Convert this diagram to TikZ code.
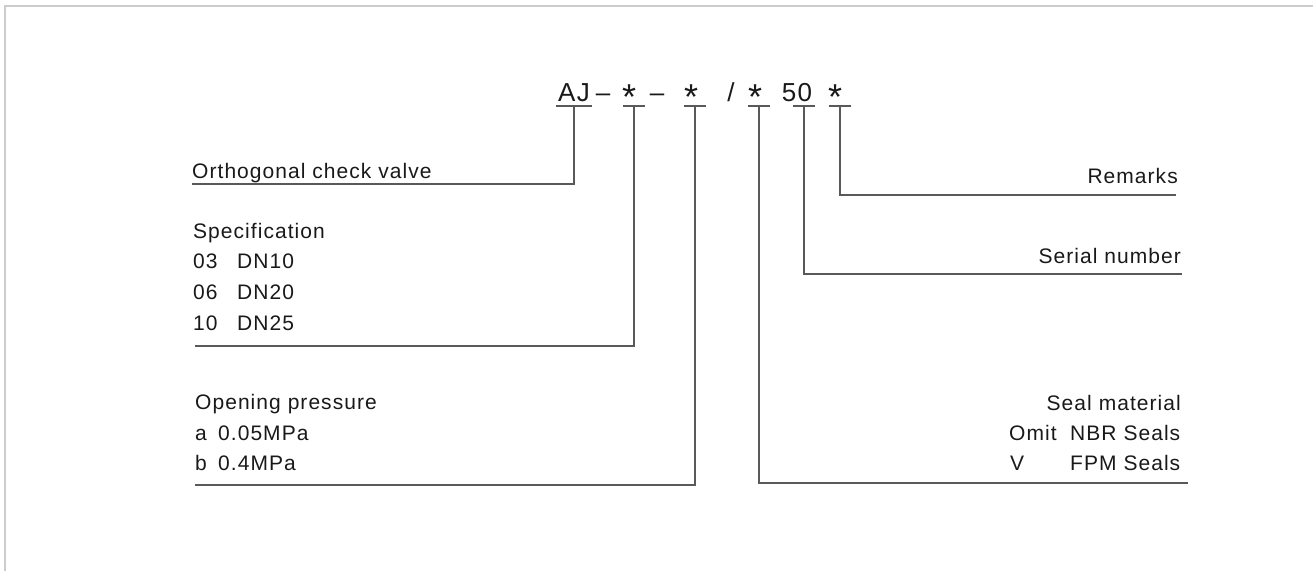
\documentclass[tikz,border=0pt]{standalone}
\usepackage{fontspec}
\setmainfont{Liberation Sans}[LetterSpace=5]
\usetikzlibrary{positioning}

\newcommand{\codestar}{\raisebox{-8pt}{\fontsize{36}{36}\selectfont *}}

\tikzset{
  code/.style={font=\fontsize{26}{26}\selectfont, text=black!90, inner sep=0pt, anchor=base},
  lbl/.style={font=\fontsize{21}{21}\selectfont, text=black!90, inner sep=0pt, anchor=base west},
  rlbl/.style={lbl, anchor=base east},
  lead/.style={draw=black!65, line width=1.2pt},
}

\begin{document}
\begin{tikzpicture}[x=1pt,y=-1pt]
				\useasboundingbox (0,0) rectangle (1313,571);
				\draw[black!20, line width=2pt] (5,571) -- (5,6) -- (1313,6);

				% model code
				\node[code] (aj) at (574,101) {AJ};
				\node[code] (dasha) at (603,101) {–};
				\node[code] (stara) at (629,101) {\codestar};
				\node[code] (dashb) at (657,101) {–};
				\node[code] (starb) at (691,101) {\codestar};
				\node[code] (slash) at (731,101) {/};
				\node[code] (starc) at (755,101) {\codestar};
				\node[code] (fifty) at (797,101) {50};
				\node[code] (stard) at (835,101) {\codestar};

				% underlines
				\coordinate (uaj) at (574,106);
				\coordinate (ua) at (634,106);
				\coordinate (ub) at (695,106);
				\coordinate (uc) at (759,106);
				\coordinate (ufifty) at (804,106);
				\coordinate (ud) at (840,106);
				\draw[lead] ([xshift=-18]uaj) -- ([xshift=18]uaj);
				\foreach \u in {ua,ub,uc,ufifty,ud}
					\draw[lead] ([xshift=-11]\u) -- ([xshift=11]\u);

				% left labels
				\node[lbl] (orth) at (192,178) {Orthogonal check valve};

				\node[lbl] (spec) at (193,238) {Specification};
				\node[lbl] (speca) at (193,268) {03};
				\node[lbl] (specb) at (193,299) {06};
				\node[lbl] (specc) at (193,330) {10};
				\node[lbl] (dna) at (237,268) {DN10};
				\node[lbl] (dnb) at (237,299) {DN20};
				\node[lbl] (dnc) at (237,330) {DN25};

				\node[lbl] (press) at (195,409) {Opening pressure};
				\node[lbl] (pressa) at (195,440) {a};
				\node[lbl] (pressb) at (195,470) {b};
				\node[lbl] (mpaa) at (218,440) {0.05MPa};
				\node[lbl] (mpab) at (218,470) {0.4MPa};

				% right labels
				\node[rlbl] (rem) at (1178,183) {Remarks};
				\node[rlbl] (serial) at (1181,263) {Serial number};
				\node[rlbl] (seal) at (1181,410) {Seal material};
				\node[lbl] (omit) at (1009,440) {Omit};
				\node[lbl] (sealv) at (1010,470) {V};
				\node[lbl] (nbr) at (1070,440) {NBR Seals};
				\node[lbl] (fpm) at (1070,470) {FPM Seals};

				% leader ends
				\coordinate (eorth) at (192,184);
				\coordinate (espec) at (195,346);
				\coordinate (epress) at (195,485);
				\coordinate (eseal) at (1188,483);
				\coordinate (eserial) at (1182,274);
				\coordinate (erem) at (1176,195);

				\draw[lead] (uaj) |- (eorth);
				\draw[lead] (ua) |- (espec);
				\draw[lead] (ub) |- (epress);
				\draw[lead] (uc) |- (eseal);
				\draw[lead] (ufifty) |- (eserial);
				\draw[lead] (ud) |- (erem);

\end{tikzpicture}
\end{document}
